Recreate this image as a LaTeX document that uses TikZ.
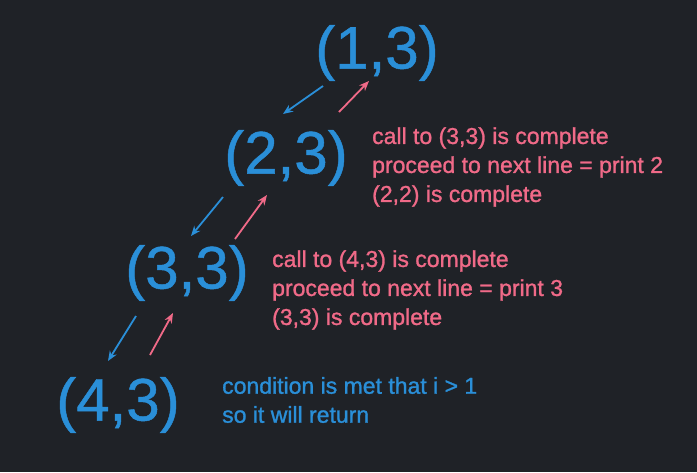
\documentclass[tikz,border=0pt]{standalone}
\usepackage{fontspec}
\setmainfont{Liberation Sans}
\newfontfamily\notefont[FakeBold=1.2]{Liberation Sans}
\newfontfamily\pairfont[FakeBold=0.8]{Liberation Sans}
\usetikzlibrary{arrows.meta}
\definecolor{bgdark}{HTML}{1F2227}
\definecolor{callblue}{HTML}{2A8FD8}
\definecolor{backpink}{HTML}{F06A88}
\tikzset{
	pair/.style={text=callblue,inner sep=0pt,font=\pairfont\fontsize{60}{64}\selectfont},
	note/.style={anchor=west,inner sep=0pt,align=left,font=\notefont\fontsize{23}{29}\selectfont},
	down/.style={draw=callblue,line width=1.8pt,-{Stealth[length=10pt,width=8pt]}},
	up/.style={draw=backpink,line width=1.8pt,-{Stealth[length=10pt,width=8pt]}}
}
\begin{document}
\begin{tikzpicture}[x=1pt,y=-1pt]
		\fill[bgdark] (0,0) rectangle (697,472);
		\useasboundingbox (0,0) rectangle (697,472);
		% the calls
		\node[pair] (n13) at (377,53) {(1,3)};
		\node[pair] (n23) at (286,158) {(2,3)};
		\node[pair] (n33) at (187,273) {(3,3)};
		\node[pair] (n43) at (118,405) {(4,3)};
		% notes
		\node[note,text=backpink] (t23) at (372,167) {call to (3,3) is complete\\proceed to next line = print 2\\(2,2) is complete};
		\node[note,text=backpink] (t33) at (272,290) {call to (4,3) is complete\\proceed to next line = print 3\\(3,3) is complete};
		\node[note,text=callblue] (t43) at (222,400) {condition is met that i > 1\\so it will return};
		% going down
		\draw[down] ([shift={(-54,33)}]n13.center) -- ([shift={(-3,-44)}]n23.center);
		\draw[down] ([shift={(-63,39)}]n23.center) -- ([shift={(4,-37)}]n33.center);
		\draw[down] ([shift={(-51,43)}]n33.center) -- ([shift={(-10,-44)}]n43.center);
		% coming back
		\draw[up] ([shift={(53,-46)}]n23.center) -- ([shift={(-8,28)}]n13.center);
		\draw[up] ([shift={(48,-34)}]n33.center) -- ([shift={(-19,37)}]n23.center);
		\draw[up] ([shift={(32,-50)}]n43.center) -- ([shift={(-14,40)}]n33.center);
\end{tikzpicture}
\end{document}
